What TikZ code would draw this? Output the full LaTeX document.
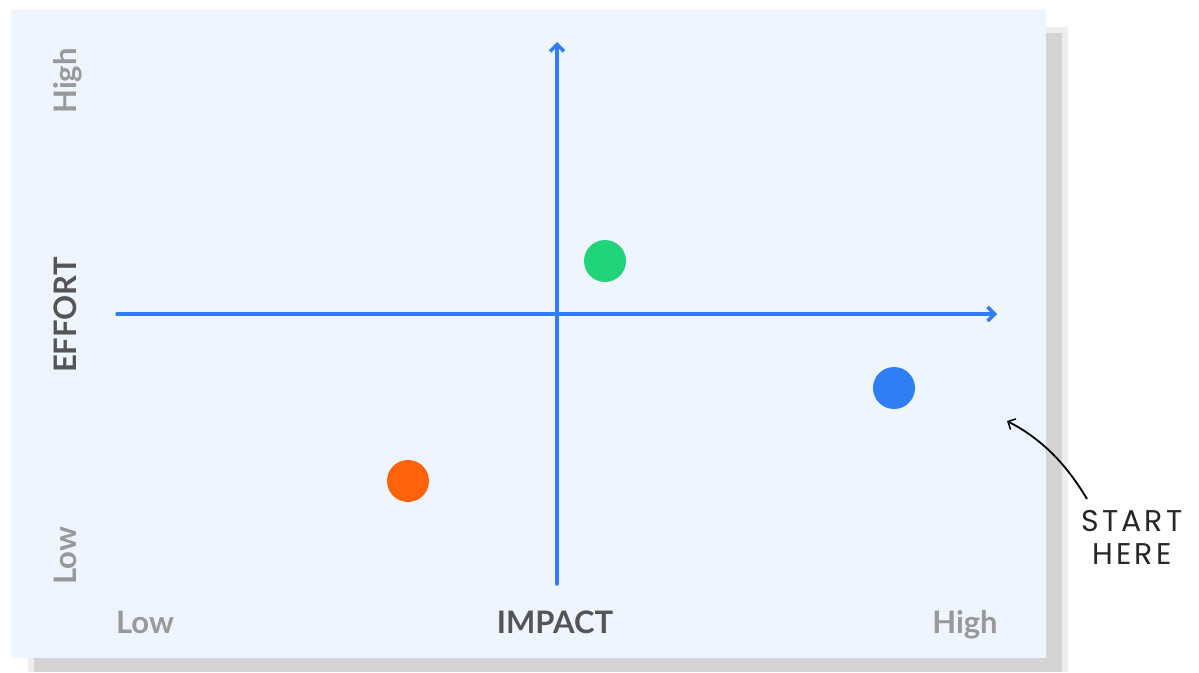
\documentclass[tikz,border=0pt]{standalone}
\usepackage{fontspec}
\setmainfont{Lato}
\newfontfamily\handfont{Poppins}
\usetikzlibrary{arrows.meta}
\definecolor{panel}{HTML}{EEF5FF}
\definecolor{shadowlight}{HTML}{EEEEEE}
\definecolor{shadowdark}{HTML}{D4D4D4}
\definecolor{axisblue}{HTML}{2F7EF5}
\definecolor{lblgray}{HTML}{999999}
\definecolor{titlegray}{HTML}{555555}
\definecolor{dotgreen}{HTML}{21D47A}
\definecolor{dotblue}{HTML}{2F7EF5}
\definecolor{dotorange}{HTML}{FF6309}
\newcommand{\lsp}{\kern3pt}
\tikzset{
  axisline/.style={draw=axisblue, line width=3.5pt, line cap=round, -{Straight Barb[length=7pt,width=14pt,line width=3.5pt]}},
  lowhigh/.style={text=lblgray, font=\bfseries\fontsize{31}{33}\selectfont, inner sep=0pt, anchor=base},
  axtitle/.style={text=titlegray, font=\bfseries\fontsize{31}{33}\selectfont, inner sep=0pt, anchor=base},
  dot/.style={circle, inner sep=0pt, minimum size=42pt},
  handtext/.style={text=black!85, font=\handfont\fontsize{30}{33}\selectfont, align=center, inner sep=0pt},
}
\begin{document}
\begin{tikzpicture}[x=1pt,y=-1pt]
\useasboundingbox (0,0) rectangle (1199,672);
% shadow
\fill[shadowlight] (28,27) rectangle (1068,672);
\fill[shadowdark] (34,33) rectangle (1062,672);
% panel
\fill[panel] (11,10) rectangle (1046,658);
% axes
\coordinate (xs) at (117,314);
\coordinate (xe) at (997,314);
\coordinate (ys) at (557,584);
\coordinate (ye) at (557,42);
\draw[axisline] (xs) -- (xe);
\draw[axisline] (ys) -- (ye);
% dots
\node[dot, fill=dotgreen] (g) at (605,261) {};
\node[dot, fill=dotblue] (b) at (894,388) {};
\node[dot, fill=dotorange] (o) at (408,481) {};
% labels
\node[lowhigh, rotate=90] (yhigh) at (76,81) {High};
\node[lowhigh, rotate=90] (ylow) at (76,556) {Low};
\node[axtitle, rotate=90] (effort) at (76,315) {EFFORT};
\node[lowhigh] (xlow) at (145,633) {Low};
\node[axtitle] (impact) at (555,633) {IMPACT};
\node[lowhigh] (xhigh) at (965,633) {High};
% start here
\node[handtext] (start) at (1132,537) {S\lsp T\lsp A\lsp R\lsp T\\H\lsp E\lsp R\lsp E};
\coordinate (tip) at (1007,421);
\draw[line width=1.8pt, -{Straight Barb[length=6pt,width=12pt,line width=1.5pt]}] (1087,499) .. controls (1065,462) and (1040,438) .. (tip);
\end{tikzpicture}
\end{document}
